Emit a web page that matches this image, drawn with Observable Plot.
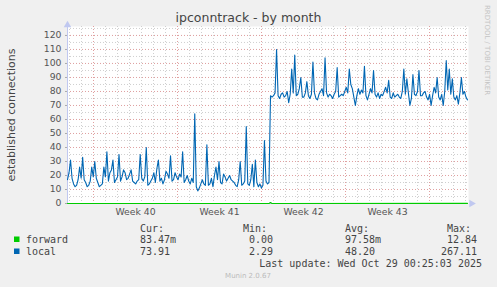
<!DOCTYPE html>
<html><head><meta charset="utf-8">
<script src="https://cdn.jsdelivr.net/npm/d3@7"></script>
<script src="https://cdn.jsdelivr.net/npm/@observablehq/plot@0.6"></script>
<style>
html,body{margin:0;padding:0;background:#f0f0f0;}
#wrap{position:relative;width:497px;height:287px;overflow:hidden;}
#wrap svg{position:absolute;left:0;top:0;}
</style></head><body><div id="wrap"></div>
<script>
// ---- data ----
const startTime = new Date("2025-09-25T20:00:00Z");
const endTime = new Date("2025-10-29T06:00:00Z");
const stepHours = 3.03;
const local = [
17,22, 31,18, 14,12, 13,17, 26,18, 33,17, 15,12, 13,16, 26,19, 30,18,
15,12, 13,14, 26,19, 37,16, 22,24, 31,15, 17,19, 35,16, 19,24, 22,17,
18,21, 24,16, 15,14, 16,17, 35,18, 16,19, 40,13, 14,16, 18,22, 15,25,
31,16, 18,14, 17,23, 21,18, 34,16, 17,22, 19,17, 21,19, 37,15, 17,20,
16,14, 18,15, 64,12, 9,11, 14,17, 14,13, 42,13, 14,18, 12,20, 26,17,
30,15, 14,21, 19,16, 18,20, 17,16, 15,13, 12,17, 30,13, 14,16, 55,14,
13,17, 28,12, 31,15, 12,14, 11,13, 45,16, 14,15, 77,76, 77,79, 110,77,
75,78, 79,76, 77,80, 72,78, 96,79, 106,77, 78,82, 90,76, 76,79, 87,77,
75,78, 101,79, 75,74, 78,80, 82,77, 104,79, 76,78, 77,75, 78,80, 97,76,
77,78, 77,80, 83,79, 96,85, 82,76, 70,77, 82,78, 81,79, 98,77, 74,78,
82,79, 95,78, 76,79, 75,78, 77,80, 83,79, 88,76, 75,79, 76,77, 78,76,
75,80, 96,78, 89,79, 70,75, 92,78, 77,80, 95,77, 77,79, 80,76, 74,78,
70,77, 83,79, 90,76, 74,78, 70,80, 102,81, 96,78, 89,76, 74,77, 71,79,
90,78, 80,76, 74
];
const forwardIdx = [0, 133, 134, 135, 264];
const forwardVals = [0, 0, 0.7, 0, 0.08];
const weekStarts = ["2025-09-28","2025-10-05","2025-10-12","2025-10-19","2025-10-26"];
const weekLabels = ["Week 40","Week 41","Week 42","Week 43"];
const yMajor = [0,10,20,30,40,50,60,70,80,90,100,110,120];
const yMinor = [5,15,25,35,45,55,65,75,85,95,105,115,125];
const seriesNames = ["forward","local"];
const seriesColors = ["#00cc00","#0066b3"];
const colHeads = ["Cur:","Min:","Avg:","Max:"];
const statsForward = ["83.47m","0.00","97.58m","12.84"];
const statsLocal = ["73.91","2.29","48.20","267.11"];
const lastUpdate = "Last update: Wed Oct 29 00:25:03 2025";

// ---- build ----
const tAt = i => new Date(+startTime + i * stepHours * 3600e3);
const localRows = local.map((v, i) => ({t: tAt(i), v}));
const forwardRows = forwardIdx.map((k, j) => ({t: tAt(k), v: forwardVals[j]}));
const weekDates = weekStarts.map(s => new Date(s + "T00:00:00Z"));
const weekMid = weekLabels.map((_, i) => new Date((+weekDates[i] + +weekDates[i + 1]) / 2));
const labelMap = new Map(weekMid.map((d, i) => [+d, weekLabels[i]]));
const dayLines = d3.utcDay.range(d3.utcDay.ceil(startTime), endTime).filter(d => !weekDates.some(w => +w === +d));
const axisCol = "#c0c8f0";
const gridCol = "#cfcfcf";
const mgridCol = "#e0a0a0";

const chart = Plot.plot({
  width: 497, height: 287,
  marginLeft: 67, marginRight: 29, marginTop: 26, marginBottom: 84,
  style: {background: "transparent", fontFamily: "DejaVu Sans", fontSize: "9.3px", color: "#555", overflow: "visible"},
  x: {type: "utc", domain: [startTime, endTime]},
  y: {domain: [0, 126.4]},
  marks: [
    Plot.frame({fill: "white", stroke: null}),
    Plot.ruleX(dayLines, {stroke: gridCol, strokeDasharray: "1,2"}),
    Plot.ruleY(yMinor, {stroke: gridCol, strokeDasharray: "1,2"}),
    Plot.ruleY(yMajor.slice(1), {stroke: gridCol, strokeDasharray: "1,2"}),
    Plot.ruleX(weekDates, {stroke: mgridCol, strokeDasharray: "1,2"}),
    Plot.ruleY(yMajor.slice(1), {stroke: mgridCol, strokeDasharray: "1,2"}),
    Plot.axisY({ticks: yMajor, tickSize: 2, tickPadding: 4, label: null, stroke: "#aaa"}),
    Plot.axisX({ticks: weekMid, tickFormat: d => labelMap.get(+d), tickSize: 0, tickPadding: 5, label: null}),
    Plot.ruleX([startTime], {stroke: axisCol}),
    Plot.ruleY([0], {stroke: axisCol}),
    Plot.dot([{t: startTime, v: 126.4}], {x: "t", y: "v", symbol: "triangle", r: 2.8, fill: axisCol, dy: -1.5}),
    Plot.dot([{t: endTime, v: 0}], {x: "t", y: "v", symbol: "triangle", rotate: 90, r: 2.8, fill: axisCol, dx: 3}),
    Plot.line(localRows, {x: "t", y: "v", stroke: seriesColors[1], strokeWidth: 1.1}),
    Plot.line(forwardRows, {x: "t", y: "v", stroke: seriesColors[0], strokeWidth: 1.1})
  ]
});
document.getElementById("wrap").appendChild(chart);

// ---- overlay texts ----
const svg = d3.select("#wrap").append("svg").attr("width", 497).attr("height", 287)
  .style("pointer-events", "none");
svg.append("text").attr("x", 248.5).attr("y", 22).attr("text-anchor", "middle")
  .attr("font-family", "DejaVu Sans").attr("font-size", 12.5).attr("fill", "#444")
  .text("ipconntrack - by month");
svg.append("text").attr("transform", "translate(15,115) rotate(-90)").attr("text-anchor", "middle")
  .attr("font-family", "DejaVu Sans").attr("font-size", 11).attr("fill", "#444")
  .text("established connections");
svg.append("text").attr("transform", "translate(484.5,5) rotate(90)")
  .attr("font-family", "DejaVu Sans").attr("font-size", 7).attr("fill", "#c4c4c4")
  .text("RRDTOOL / TOBI OETIKER");
const mono = g => g.attr("font-family", "DejaVu Sans Mono").attr("font-size", 10).attr("fill", "#444");
const headX = [140, 243, 345, 447];
colHeads.forEach((h, i) => svg.append("text").attr("x", headX[i]).attr("y", 231.5).call(mono).text(h));
const rowsY = [243, 255];
const valX = [[140, 249, 345, 447], [140, 249, 345, 441]];
[statsForward, statsLocal].forEach((vals, r) => {
  svg.append("rect").attr("x", 14).attr("y", rowsY[r] - 6.5).attr("width", 5.5).attr("height", 5.5).attr("fill", seriesColors[r]);
  svg.append("text").attr("x", 26).attr("y", rowsY[r]).call(mono).text(seriesNames[r]);
  vals.forEach((v, i) => svg.append("text").attr("x", valX[r][i]).attr("y", rowsY[r]).call(mono).text(v));
});
svg.append("text").attr("x", 482).attr("y", 267).attr("text-anchor", "end").call(mono).text(lastUpdate);
svg.append("text").attr("x", 248).attr("y", 278).attr("text-anchor", "middle")
  .attr("font-family", "DejaVu Sans").attr("font-size", 7).attr("fill", "#bbb").text("Munin 2.0.67");
</script></body></html>
